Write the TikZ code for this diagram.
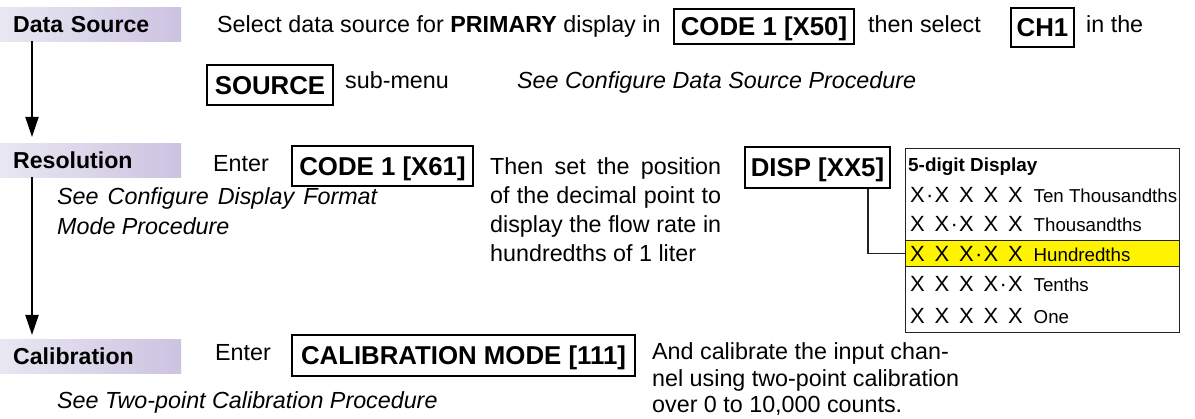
\documentclass[tikz,border=0pt]{standalone}
\usepackage{fontspec}
\setmainfont{Liberation Sans}
\usetikzlibrary{arrows.meta}
\definecolor{hdrL}{HTML}{E9E7F2}
\definecolor{hdrR}{HTML}{CCC3E1}
\definecolor{hilite}{RGB}{255,243,0}
\definecolor{framec}{HTML}{222222}
\newcommand{\bodyf}{\fontsize{23.3}{29}\selectfont}
\newcommand{\Xc}{\makebox[24.5pt]{X}}
\newcommand{\Dt}{\makebox[0pt]{·}}
\newcommand{\lblf}{\fontsize{18.7}{22}\selectfont}
\tikzset{
  hdr/.style={anchor=north west, minimum width=181pt, minimum height=34pt,
    inner xsep=13pt, inner ysep=0pt, text height=16.5pt, text depth=0pt,
    text width=155pt, align=left, left color=hdrL, right color=hdrR,
    font=\fontsize{23.1}{28}\selectfont\bfseries},
  keybox/.style={draw=black, line width=2pt, anchor=north west, inner xsep=0pt,
    inner ysep=0pt, text height=18.5pt, text depth=0pt,
    font=\fontsize{25.8}{30}\selectfont\bfseries},
  txt/.style={anchor=base west, inner sep=0pt, font=\bodyf},
  itx/.style={anchor=base west, inner sep=0pt, font=\bodyf\itshape},
  flow/.style={line width=2pt, -{Triangle[length=20pt,width=13pt]}},
  conn/.style={line width=1.3pt, draw=framec},
  tblframe/.style={draw=framec, line width=1.3pt, anchor=north west, inner sep=0pt},
  rowtxt/.style={anchor=base west, inner sep=0pt, font=\fontsize{22}{26}\selectfont},
}
\begin{document}
\begin{tikzpicture}[x=1pt,y=-1pt]
\useasboundingbox (0,0) rectangle (1195,419);

% headers
\node[hdr] (ds)  at (0,7)   {Data Source};
\node[hdr] (res) at (0,143) {Resolution};
\node[hdr] (cal) at (0,339) {Calibration};

% flow arrows
\coordinate (ax) at (32,0);
\draw[flow, shorten >=6pt] (ax |- ds.south) -- (ax |- res.north);
\draw[flow, shorten >=4pt] (ax |- res.south) -- (ax |- cal.north);

% row 1
\node[txt] (t1) at (217,33) {Select data source for \textbf{PRIMARY} display in};
\node[keybox, minimum width=180pt, minimum height=35pt] (k50) at (673,8) {CODE 1 [X50]};
\node[txt] (t2) at (868,33) {then select};
\node[keybox, minimum width=63pt, minimum height=39pt] (kch) at (1010,7) {CH1};
\node[txt] (t3) at (1086,33) {in the};

% row 2
\node[keybox, minimum width=126pt, minimum height=40pt] (ksrc) at (206,64) {SOURCE};
\node[txt] (t4) at (345,89) {sub-menu};
\node[itx] (t5) at (517,89) {See Configure Data Source Procedure};

% resolution
\node[txt] (t6) at (213,172) {Enter};
\node[keybox, minimum width=181pt, minimum height=40pt] (k61) at (291,145) {CODE 1 [X61]};
\node[txt] (p1) at (490,175) {\makebox[231pt][s]{Then set the position}};
\node[txt] (p2) at (490,204) {\makebox[231pt][s]{of the decimal point to}};
\node[txt] (p3) at (490,233) {\makebox[231pt][s]{display the flow rate in}};
\node[txt] (p4) at (490,262) {hundredths of 1 liter};
\node[itx] (q1) at (57,205) {\makebox[320pt][s]{See Configure Display Format}};
\node[itx] (q2) at (57,235) {Mode Procedure};
\node[keybox, minimum width=145pt, minimum height=41pt] (disp) at (744,146) {DISP [XX5]};

% table
\node[tblframe, minimum width=274pt, minimum height=184pt] (tbl) at (905,148) {};
\node[tblframe, fill=hilite, minimum width=274pt, minimum height=26pt] (hund) at (905,240) {};
\node[anchor=base west, inner sep=0pt, font=\fontsize{18.9}{22}\selectfont\bfseries] (th) at (908,172) {5-digit Display};
\node[rowtxt] (r1) at (905,203) {\Xc\Dt\Xc\Xc\Xc\Xc\hspace{6pt}{\lblf Ten Thousandths}};
\node[rowtxt] (r2) at (905,232) {\Xc\Xc\Dt\Xc\Xc\Xc\hspace{6pt}{\lblf Thousandths}};
\node[rowtxt] (r3) at (905,262) {\Xc\Xc\Xc\Dt\Xc\Xc\hspace{6pt}{\lblf Hundredths}};
\node[rowtxt] (r4) at (905,292) {\Xc\Xc\Xc\Xc\Dt\Xc\hspace{6pt}{\lblf Tenths}};
\node[rowtxt] (r5) at (905,324) {\Xc\Xc\Xc\Xc\Xc\hspace{6pt}{\lblf One}};
\coordinate (cx) at (868,0);
\draw[conn] (cx |- disp.south) |- (hund.west);

% calibration
\node[txt] (t7) at (215,361) {Enter};
\node[keybox, minimum width=343pt, minimum height=41pt] (kcal) at (291,334) {CALIBRATION MODE [111]};
\node[itx] (t8) at (57,409) {See Two-point Calibration Procedure};
\node[txt] (c1) at (652,360) {And calibrate the input chan-};
\node[txt] (c2) at (652,387) {nel using two-point calibration};
\node[txt] (c3) at (652,413) {over 0 to 10,000 counts.};
\end{tikzpicture}
\end{document}
